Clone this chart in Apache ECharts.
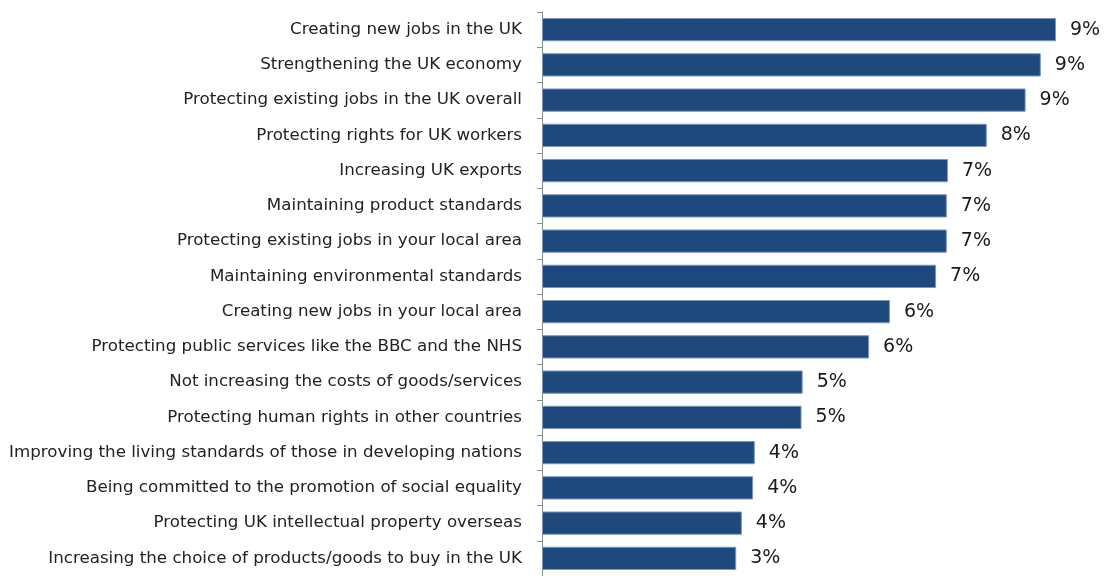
<!DOCTYPE html>
<html>
<head>
<meta charset="utf-8">
<script src="https://cdn.jsdelivr.net/npm/echarts@6/dist/echarts.min.js"></script>
<style>
  html, body { margin: 0; padding: 0; background: #ffffff; }
  #chart { width: 1109px; height: 576px; }
</style>
</head>
<body>
<div id="chart"></div>
<script>
// Priorities, listed top to bottom
const categories = [
  'Creating new jobs in the UK',
  'Strengthening the UK economy',
  'Protecting existing jobs in the UK overall',
  'Protecting rights for UK workers',
  'Increasing UK exports',
  'Maintaining product standards',
  'Protecting existing jobs in your local area',
  'Maintaining environmental standards',
  'Creating new jobs in your local area',
  'Protecting public services like the BBC and the NHS',
  'Not increasing the costs of goods/services',
  'Protecting human rights in other countries',
  'Improving the living standards of those in developing nations',
  'Being committed to the promotion of social equality',
  'Protecting UK intellectual property overseas',
  'Increasing the choice of products/goods to buy in the UK'
];

// Share of respondents (%), labels show the rounded figure
const shares = [9.13, 8.86, 8.59, 7.90, 7.21, 7.19, 7.19, 7.00, 6.18, 5.81, 4.63, 4.61, 3.78, 3.75, 3.55, 3.45];

const chart = echarts.init(document.getElementById('chart'), null, { renderer: 'canvas' });

chart.setOption({
  animation: false,
  backgroundColor: '#ffffff',
  grid: { left: 542, top: 12, width: 563, height: 568, containLabel: false },
  xAxis: {
    type: 'value',
    min: 0,
    max: 10,
    show: false
  },
  yAxis: {
    type: 'category',
    data: categories,
    inverse: true,
    axisLine: { show: true, lineStyle: { color: '#8c8c8c', width: 1 } },
    axisTick: { show: true, length: 5, lineStyle: { color: '#8c8c8c' } },
    axisLabel: {
      margin: 20,
      fontFamily: 'DejaVu Sans',
      fontSize: 16.7,
      color: '#222222'
    }
  },
  series: [{
    type: 'bar',
    data: shares,
    barCategoryGap: '34%',
    itemStyle: { color: '#1f497d', borderColor: '#7c97bb', borderWidth: 1 },
    label: {
      show: true,
      position: 'right',
      distance: 14,
      fontFamily: 'DejaVu Sans',
      fontSize: 19,
      color: '#1a1a1a',
      formatter: p => Math.round(p.value) + '%'
    }
  }]
});
</script>
</body>
</html>
